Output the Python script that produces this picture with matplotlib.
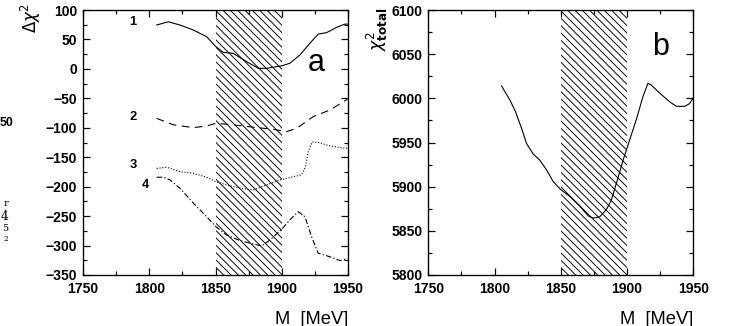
"""Delta chi^2 and total chi^2 scans versus resonance mass M."""

import matplotlib
matplotlib.use("Agg")
import matplotlib.pyplot as plt
from matplotlib.ticker import MultipleLocator

DPI = 88

# Panel a: Delta chi^2 curves 1-4
m1 = [1805.6, 1814.4, 1823.2, 1833.3, 1843.3, 1850.3, 1855.9, 1863.4, 1873.5,
      1882.3, 1888.6, 1896.1, 1900.4, 1906.1, 1913.7, 1921.2, 1927.5, 1933.8,
      1941.4, 1947.6, 1950.0]
chi1 = [74.5, 80, 74.5, 66, 54.7, 37.7, 28, 26.4, 12.3,
        1, 1, 3.8, 5.5, 9.5, 23.6, 43.4, 59, 61.5,
        70.6, 76, 76]

m2 = [1805.6, 1818.2, 1833.3, 1843.3, 1850.3, 1863.4, 1878.5, 1893.6, 1903.7,
      1911.2, 1923.8, 1936.4, 1949.5]
chi2 = [-84, -95, -99.8, -97, -92.4, -95, -99, -102.6, -106.6,
        -101, -81, -69.8, -51.7]

m3 = [1805.6, 1813.1, 1823.2, 1833.3, 1843.3, 1850.3, 1858.4, 1868.5, 1878.5,
      1888.6, 1898.7, 1908.8, 1915.0, 1918.0, 1920.0, 1923.0, 1928.0, 1935.0,
      1942.0, 1950.0]
chi3 = [-169, -167, -174.5, -177.3, -184, -191.5, -197, -202.7, -205.6,
        -197, -188.6, -183, -180, -165, -140, -124, -125, -130,
        -133, -135]

m4 = [1805.6, 1810.6, 1815.7, 1823.2, 1833.3, 1843.3, 1850.3, 1858.4, 1868.5,
      1878.5, 1884.8, 1891.1, 1900.0, 1906.1, 1912.4, 1917.5, 1922.5, 1927.5,
      1936.4, 1944.0, 1949.5]
chi4 = [-184, -184, -188.6, -202.7, -228, -251, -268, -282, -291.7,
        -297.3, -300.7, -290.5, -272.4, -256.5, -242.4, -251, -285, -313,
        -319, -325.6, -322]

# Panel b: total chi^2
mb = [1805.3, 1811.6, 1815.8, 1820.4, 1824.1, 1829.1, 1834.2, 1839.2, 1844.2,
      1849.7, 1856.8, 1864.3, 1870.6, 1874.4, 1879.4, 1884.4, 1888.2, 1892.0,
      1897.0, 1902.0, 1907.0, 1912.0, 1915.8, 1918.3, 1924.6, 1932.2, 1937.2,
      1943.5, 1947.2, 1949.7]
chib = [6014, 5998, 5985, 5966, 5949, 5937, 5930, 5919, 5906,
        5897, 5889, 5878, 5867, 5864.4, 5866, 5874, 5885, 5904,
        5930, 5953, 5976, 6002, 6017, 6015, 6006, 5996, 5991,
        5991, 5994, 6000]

band = (1850, 1900)
curve_labels = ["1", "2", "3", "4"]
label_pos = [(1787.7, 80), (1787.7, -81), (1787.7, -164), (1797.0, -198)]

plt.rcParams['font.family'] = ['Liberation Sans', 'DejaVu Sans']
plt.rcParams['mathtext.fontset'] = 'dejavusans'
plt.rcParams['hatch.linewidth'] = 0.75

fig = plt.figure(figsize=(734 / DPI, 326 / DPI), dpi=DPI)
ax_a = fig.add_axes([83 / 734, 1 - 275 / 326, 265 / 734, 265 / 326])
ax_b = fig.add_axes([428.3 / 734, 1 - 275 / 326, 265 / 734, 265 / 326])


def style_axes(ax, ylim, ymajor, yminor):
    ax.set_xlim(1750, 1950)
    ax.set_ylim(*ylim)
    ax.xaxis.set_major_locator(MultipleLocator(50))
    ax.xaxis.set_minor_locator(MultipleLocator(25))
    ax.yaxis.set_major_locator(MultipleLocator(ymajor))
    ax.yaxis.set_minor_locator(MultipleLocator(yminor))
    ax.tick_params(which='both', direction='in', top=True, right=True,
                   width=1.0, labelsize=11.5)
    ax.tick_params(which='major', length=5.5, pad=5)
    ax.tick_params(which='minor', length=3)
    ax.tick_params(axis='x', pad=6)
    for lab in ax.get_xticklabels() + ax.get_yticklabels():
        lab.set_fontweight('bold')
    for sp in ax.spines.values():
        sp.set_linewidth(1.1)
    # hatched mass window
    ax.axvspan(*band, facecolor='none', edgecolor='black',
               hatch='\\\\\\\\', linewidth=0, zorder=1)


style_axes(ax_a, (-350, 100), 50, 25)
style_axes(ax_b, (5800, 6100), 50, 25)
ax_a.set_yticks(ax_a.get_yticks())
ax_a.set_yticklabels([f"\u2212{-int(v)}" if v < 0 else f"{int(v)}"
                      for v in ax_a.get_yticks()], fontweight='bold')
ax_a.set_ylim(-350, 100)

lw = 0.9
ax_a.plot(m1, chi1, color='black', lw=lw, zorder=3)
ax_a.plot(m2, chi2, color='black', lw=lw, linestyle=(0, (7, 5)), zorder=3)
ax_a.plot(m3, chi3, color='black', lw=lw, linestyle=(0, (1, 1.6)), zorder=3)
ax_a.plot(m4, chi4, color='black', lw=lw, linestyle=(0, (5, 2, 1.2, 2)),
          zorder=3)
ax_b.plot(mb, chib, color='black', lw=lw, zorder=3)

for text, (x, y) in zip(curve_labels, label_pos):
    ax_a.text(x, y, text, fontsize=10.5, fontweight='bold',
              ha='center', va='center')

ax_a.text(1926.4, 9.5, "a", fontsize=25, ha='center', va='center')
ax_b.text(1924.9, 6058.5, "b", fontsize=25, ha='center', va='center')

# axis titles
for right in (348 / 734, 693.3 / 734):
    fig.text(right, 1 - 319 / 326, "M  [MeV]", fontsize=15,
             ha='right', va='center')
fig.text(31 / 734, 1 - 18 / 326, r"$\Delta\chi^2$", fontsize=13.5,
         rotation=90, ha='center', va='center')
fig.text(377 / 734, 1 - 7 / 326, r"$\chi^2_{\mathbf{total}}$", fontsize=14,
         rotation=90, ha='center', va='top')

# fragments of neighbouring text at the left margin
fig.text(13 / 734, 1 - 123 / 326, "50", fontsize=10, fontweight='bold',
         ha='right', va='center')
for y, s, size in [(203, "r", 8), (216, "4", 10), (228.5, "5", 8),
                   (239, "2", 6)]:
    fig.text(8 / 734, 1 - y / 326, s, fontsize=size, ha='right',
             va='center', family='DejaVu Serif')

fig.savefig("out.png", dpi=DPI)
